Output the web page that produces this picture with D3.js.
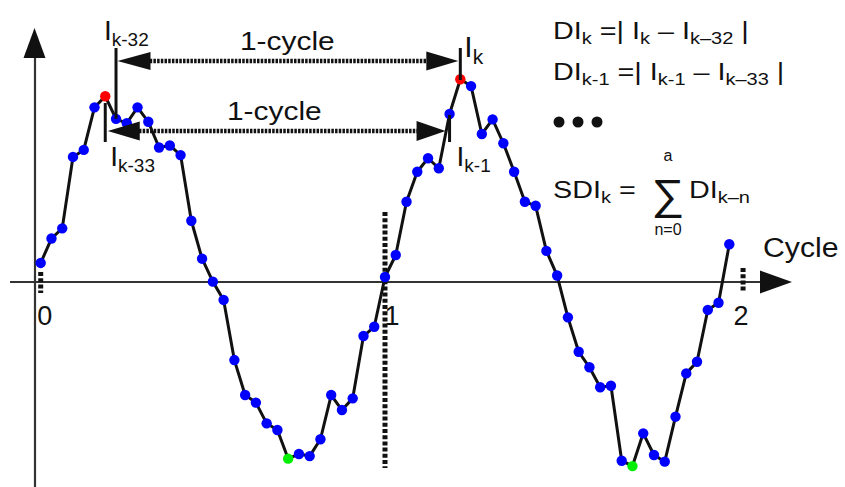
<!DOCTYPE html>
<html>
<head>
<meta charset="utf-8">
<script src="https://cdn.jsdelivr.net/npm/d3@7"></script>
<style>
  html, body { margin: 0; padding: 0; background: #fff; }
  svg { display: block; }
  text { font-family: "Liberation Sans", Arial, sans-serif; fill: #111; }
</style>
</head>
<body>
<svg id="chart" width="845" height="487"></svg>
<script>
// ---- data ----
const samplesPerCycle = 32;
const samples = [
  0.103, 0.235, 0.290, 0.676, 0.714, 0.944, 1.004, 0.882, 0.858, 0.944,
  0.866, 0.727, 0.738, 0.686, 0.331, 0.126, 0.002, -0.097, -0.422, -0.611,
  -0.652, -0.764, -0.800, -0.955, -0.930, -0.941, -0.850, -0.611, -0.692, -0.629,
  -0.292, -0.242, 0.027, 0.146, 0.434, 0.596, 0.669, 0.615, 0.908, 1.096,
  1.059, 0.800, 0.879, 0.750, 0.596, 0.434, 0.412, 0.168, 0.035, -0.191,
  -0.377, -0.461, -0.569, -0.561, -0.966, -0.995, -0.818, -0.935, -0.971, -0.728,
  -0.494, -0.431, -0.151, -0.112, 0.204
];
const redIdx = [6, 39];     // peaks
const greenIdx = [23, 55];  // troughs
const tickCycles = [0, 1, 2.04];
const tickLabels = ["0", "1", "2"];
const kIndex = 39;          // I_k sample

// ---- scales ----
const x = d3.scaleLinear().domain([0, 2]).range([40.7, 729.3]);
const y = d3.scaleLinear().domain([-1, 1]).range([467, 97]);
const xs = i => x(i / samplesPerCycle);

const svg = d3.select("#chart");
const ink = "#111";

function tri(g, tip, dir, len, half) {
  let pts;
  if (dir === 'r') pts = [[tip[0], tip[1]], [tip[0] - len, tip[1] - half], [tip[0] - len, tip[1] + half]];
  if (dir === 'l') pts = [[tip[0], tip[1]], [tip[0] + len, tip[1] - half], [tip[0] + len, tip[1] + half]];
  if (dir === 'u') pts = [[tip[0], tip[1]], [tip[0] - half, tip[1] + len], [tip[0] + half, tip[1] + len]];
  g.append("path").attr("d", "M" + pts.map(p => p.join(",")).join("L") + "Z").attr("fill", ink);
}

// text with subscripts; parts = [[str, isSub], ...]
function rich(xp, yp, parts, size, subSize, sx, anchor) {
  const g = svg.append("g").attr("transform", `translate(${xp},${yp}) scale(${sx || 1},1)`);
  const t = g.append("text").attr("font-size", size).attr("text-anchor", anchor || "start");
  let sub = false;
  parts.forEach(([s, isSub]) => {
    const ts = t.append("tspan").text(s);
    if (isSub && !sub) { ts.attr("font-size", subSize).attr("dy", size * 0.22); sub = true; }
    else if (!isSub && sub) { ts.attr("dy", -size * 0.22); sub = false; }
    else if (isSub) ts.attr("font-size", subSize);
  });
  return t;
}

// ---- axes ----
const y0 = y(0);
svg.append("line").attr("x1", 35).attr("x2", 35).attr("y1", 487).attr("y2", 50)
  .attr("stroke", "#333").attr("stroke-width", 2.2);
tri(svg, [34.5, 28], 'u', 30, 11);
svg.append("line").attr("x1", 10).attr("x2", 765).attr("y1", y0).attr("y2", y0)
  .attr("stroke", "#333").attr("stroke-width", 2.2);
tri(svg, [792, y0], 'r', 32, 11.5);

// ticks (dotted)
const tickSpan = [[272, 293], [212, 468], [268, 291]];
tickCycles.forEach((c, i) => {
  svg.append("line").attr("x1", x(c)).attr("x2", x(c))
    .attr("y1", tickSpan[i][0]).attr("y2", tickSpan[i][1])
    .attr("stroke", ink).attr("stroke-width", 5).attr("stroke-dasharray", "4,2.2");
});
const tickDx = [4, 7, -2];
tickCycles.forEach((c, i) => {
  svg.append("text").attr("x", x(c) + tickDx[i]).attr("y", 325)
    .attr("font-size", 27).attr("text-anchor", "middle").text(tickLabels[i]);
});
svg.append("text").attr("x", 763).attr("y", 257).attr("font-size", 27)
  .attr("transform", "translate(763,0) scale(1.12,1) translate(-763,0)").text("Cycle");

// ---- signal ----
const line = d3.line().x((d, i) => xs(i)).y(d => y(d));
svg.append("path").datum(samples).attr("d", line)
  .attr("fill", "none").attr("stroke", ink).attr("stroke-width", 3).attr("stroke-linejoin", "round");
svg.append("g").selectAll("circle").data(samples).join("circle")
  .attr("cx", (d, i) => xs(i)).attr("cy", d => y(d)).attr("r", 5.2)
  .attr("fill", (d, i) => redIdx.includes(i) ? "#ff0000" : greenIdx.includes(i) ? "#00ee00" : "#0000ff");

// ---- 1-cycle annotations ----
const xk = xs(kIndex), xk1 = xs(kIndex - 1), xk32 = xs(kIndex - 32), xk33 = xs(kIndex - 33);
[[xk32, 48, y(samples[kIndex - 32])], [xk33, 103, 142], [xk, 48, 80], [xk1, 115, 142]].forEach(([mx, a, b]) => {
  svg.append("line").attr("x1", mx).attr("x2", mx).attr("y1", a).attr("y2", b)
    .attr("stroke", ink).attr("stroke-width", 3);
});
const ya = 61, yb = 131;
svg.append("line").attr("x1", xk32 + 30).attr("x2", xk - 30).attr("y1", ya).attr("y2", ya)
  .attr("stroke", ink).attr("stroke-width", 4.5).attr("stroke-dasharray", "2.5,1.2");
tri(svg, [xk32 + 1.5, ya], 'l', 33, 9);
tri(svg, [xk - 2, ya], 'r', 32, 9.5);
svg.append("line").attr("x1", xk33 + 30).attr("x2", xk1 - 30).attr("y1", yb).attr("y2", yb)
  .attr("stroke", ink).attr("stroke-width", 4.5).attr("stroke-dasharray", "2.5,1.2");
tri(svg, [xk33 + 2.5, yb], 'l', 32, 9.5);
tri(svg, [xk1 - 4, yb], 'r', 29, 10);

rich(240, 50, [["1-cycle", 0]], 26, 18, 1.15);
rich(227, 120, [["1-cycle", 0]], 26, 18, 1.15);

// point labels
rich(xk32 - 12, 40, [["I", 0], ["k-32", 1]], 28, 19, 1);
rich(xk33 + 5, 166, [["I", 0], ["k-33", 1]], 28, 19, 1);
rich(xk + 4, 57, [["I", 0], ["k", 1]], 30, 21, 1);
rich(xk1 + 7, 166, [["I", 0], ["k-1", 1]], 28, 19, 1);

// ---- formulas ----
rich(553, 39, [["DI", 0], ["k", 1], [" =| I", 0], ["k", 1], [" \u2013 I", 0], ["k\u201332", 1], [" |", 0]], 23, 16, 1.25);
rich(553, 80, [["DI", 0], ["k-1", 1], [" =| I", 0], ["k-1", 1], [" \u2013 I", 0], ["k\u201333", 1], [" |", 0]], 23, 16, 1.25);
[0, 1, 2].forEach(i => svg.append("circle").attr("cx", 559 + i * 19).attr("cy", 122).attr("r", 5.5).attr("fill", ink));
rich(553, 198, [["SDI", 0], ["k", 1], [" =", 0]], 23, 16, 1.25);
svg.append("text").attr("x", 668).attr("y", 209).attr("font-size", 42).attr("text-anchor", "middle")
  .attr("transform", "translate(668,0) scale(1.1,1) translate(-668,0)").text("\u2211");
svg.append("text").attr("x", 668).attr("y", 161).attr("font-size", 16).attr("text-anchor", "middle").text("a");
svg.append("text").attr("x", 668).attr("y", 235).attr("font-size", 16).attr("text-anchor", "middle").text("n=0");
rich(689, 198, [["DI", 0], ["k\u2013n", 1]], 23, 16, 1.25);
</script>
</body>
</html>
